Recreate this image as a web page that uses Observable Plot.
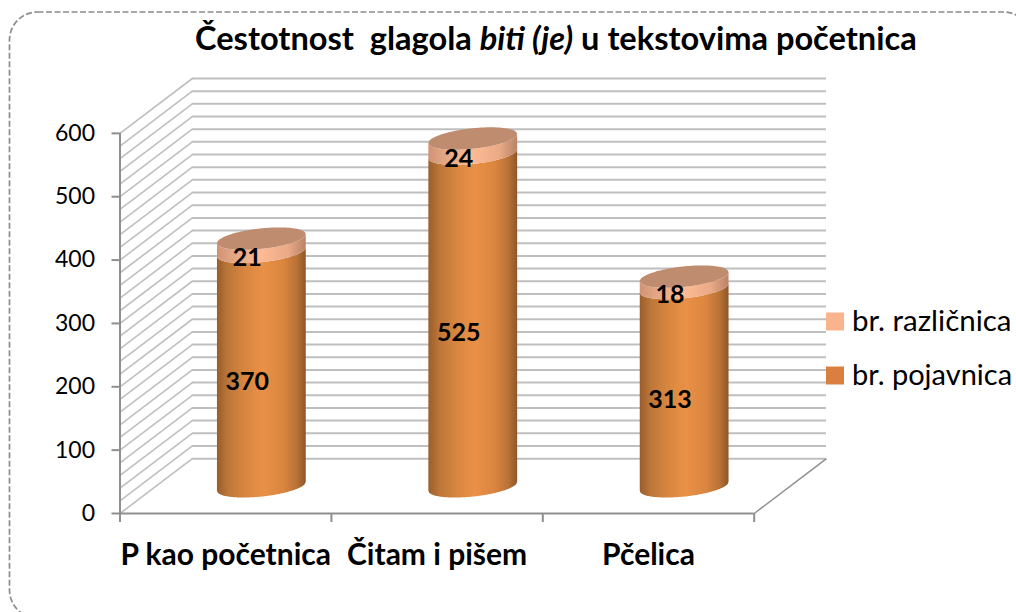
<!DOCTYPE html>
<html><head><meta charset="utf-8">
<script src="https://cdn.jsdelivr.net/npm/d3@7"></script>
<script src="https://cdn.jsdelivr.net/npm/@observablehq/plot@0.6"></script>
<style>
html,body{margin:0;padding:0;background:#fff;overflow:hidden}
#wrap{position:relative;width:1016px;height:612px;font-family:Lato,sans-serif;overflow:hidden}
#frame{position:absolute;left:0;top:0}
#title{position:relative;height:60px;box-sizing:border-box;padding-top:19px;padding-left:195px;font-size:32.6px;font-weight:700;line-height:38px;white-space:pre;color:#000}
#title i{font-style:italic}
#chart svg{display:block;position:relative}
</style></head><body>
<div id="wrap">
<svg id="frame" width="1016" height="612"><rect x="9.5" y="12" width="1022" height="606" rx="28" fill="none" stroke="#8c8c8c" stroke-width="1.7" stroke-dasharray="6 2.5"/></svg>
<div id="title">Čestotnost  glagola <i>biti (je)</i> u tekstovima početnica</div>
<div id="chart"></div></div>
<script>
const categories = ["P kao početnica", "Čitam i pišem", "Pčelica"];
const pojavnica = [370, 525, 313];
const razlicnica = [21, 24, 18];
const legendLabels = ["br. različnica", "br. pojavnica"];
const yTicks = [0, 100, 200, 300, 400, 500, 600];
const gridValues = d3.range(0, 601, 20);

// 3-D projection expressed in data units
const depthX = 0.342, depthY = 86.6;
const halfW = 0.21, skew = 7.1, semi = 16.2;
const baseLift = depthY / 2 - 1.2;
const us = d3.range(-1, 1.0001, 0.02);
const front = (v, u) => v + baseLift + skew * u - semi * Math.sqrt(Math.max(0, 1 - u * u));
const back = (v, u) => v + baseLift + skew * u + semi * Math.sqrt(Math.max(0, 1 - u * u));
const cx = (i) => i + 0.5 + depthX / 2;

function band(i, v0, v1) {
  return us.map((u) => ({x: cx(i) + halfW * u, y1: front(v0, u), y2: front(v1, u)}));
}
function cap(i, v) {
  return us.map((u) => ({x: cx(i) + halfW * u, y1: front(v, u), y2: back(v, u)}));
}
const grad = (id, stops) => () => {
  const defs = d3.create("svg:defs");
  const g = defs.append("linearGradient").attr("id", id);
  stops.forEach(([o, c]) => g.append("stop").attr("offset", o).attr("stop-color", c));
  return defs.node();
};

const marks = [
  grad("bodyGrad", [[0, "#9a5d2c"], [0.12, "#bb7638"], [0.3, "#d6853f"], [0.52, "#ea9047"], [0.75, "#da853f"], [0.9, "#b87236"], [1, "#8f5628"]]),
  grad("bandGrad", [[0, "#cf9273"], [0.15, "#e0a483"], [0.5, "#fdba94"], [0.8, "#eaaa86"], [1, "#b98366"]]),
  // back wall and side wall gridlines
  Plot.ruleY(gridValues, {y: (d) => d + depthY, x1: depthX, x2: 3 + depthX, stroke: "#bfbfbf", strokeWidth: 2}),
  Plot.link(gridValues, {x1: 0, y1: (d) => d, x2: depthX, y2: (d) => d + depthY, stroke: "#bfbfbf", strokeWidth: 1.6}),
  // floor edges
  Plot.link([3], {x1: (d) => d, y1: 0, x2: (d) => d + depthX, y2: depthY, stroke: "#8f8f8f", strokeWidth: 1.5}),
  // axes
  Plot.ruleX([0], {y1: 0, y2: 600, stroke: "#8f8f8f", strokeWidth: 2}),
  Plot.ruleY([0], {x1: 0, x2: 3, stroke: "#8f8f8f", strokeWidth: 2}),
  Plot.axisY({ticks: yTicks, tickSize: 8, tickPadding: 17, stroke: "#8f8f8f", strokeWidth: 2, fontSize: 23, label: null, color: "#000"}),
  Plot.axisX({ticks: [0, 1, 2, 3], tickSize: 9, tickFormat: () => "", stroke: "#8f8f8f", strokeWidth: 2, label: null}),
  Plot.text(categories, {x: (d, i) => i + 0.5, frameAnchor: "bottom", dy: 42, text: (d) => d, fontSize: 30, fontWeight: 700, fill: "#000", lineAnchor: "middle"})
];
categories.forEach((c, i) => {
  const total = pojavnica[i] + razlicnica[i];
  marks.push(
    Plot.areaY(band(i, 0, pojavnica[i]), {x: "x", y1: "y1", y2: "y2", fill: "url(#bodyGrad)"}),
    Plot.areaY(band(i, pojavnica[i], total), {x: "x", y1: "y1", y2: "y2", fill: "url(#bandGrad)"}),
    Plot.areaY(cap(i, total), {x: "x", y1: "y1", y2: "y2", fill: "#c08c70"})
  );
});
const labelOffsetX = 0.102, labelOffsetY = 22.5;
marks.push(
  Plot.text(pojavnica, {x: (d, i) => i + 0.5 + labelOffsetX, y: (d) => d / 2 + labelOffsetY, text: (d) => String(d), fontSize: 25, fontWeight: 700, fill: "#000"}),
  Plot.text(razlicnica, {x: (d, i) => i + 0.5 + labelOffsetX, y: (d, i) => pojavnica[i] + d / 2 + labelOffsetY, text: (d) => String(d), fontSize: 25, fontWeight: 700, fill: "#000"}),
  Plot.dot([legendLabels[0]], {frameAnchor: "top-left", dx: 715, dy: 243, symbol: "square", r: 10.15, fill: "#f9b48e", stroke: null}),
  Plot.dot([legendLabels[1]], {frameAnchor: "top-left", dx: 715, dy: 297, symbol: "square", r: 10.15, fill: "#d9803f", stroke: null}),
  Plot.text([legendLabels[0]], {frameAnchor: "top-left", dx: 732, dy: 243, text: (d) => d, textAnchor: "start", lineAnchor: "middle", fontSize: 29.5, fill: "#000"}),
  Plot.text([legendLabels[1]], {frameAnchor: "top-left", dx: 732, dy: 297, text: (d) => d, textAnchor: "start", lineAnchor: "middle", fontSize: 29, fill: "#000"})
);

const plot = Plot.plot({
  width: 1016,
  height: 552,
  marginTop: 18,
  marginBottom: 99,
  marginLeft: 119.5,
  marginRight: 190,
  style: {background: "transparent", fontFamily: "Lato, sans-serif", overflow: "visible"},
  x: {domain: [0, 3 + depthX], axis: null},
  y: {domain: [0, 600 + depthY], axis: null},
  marks
});
document.getElementById("chart").appendChild(plot);
</script></body></html>
